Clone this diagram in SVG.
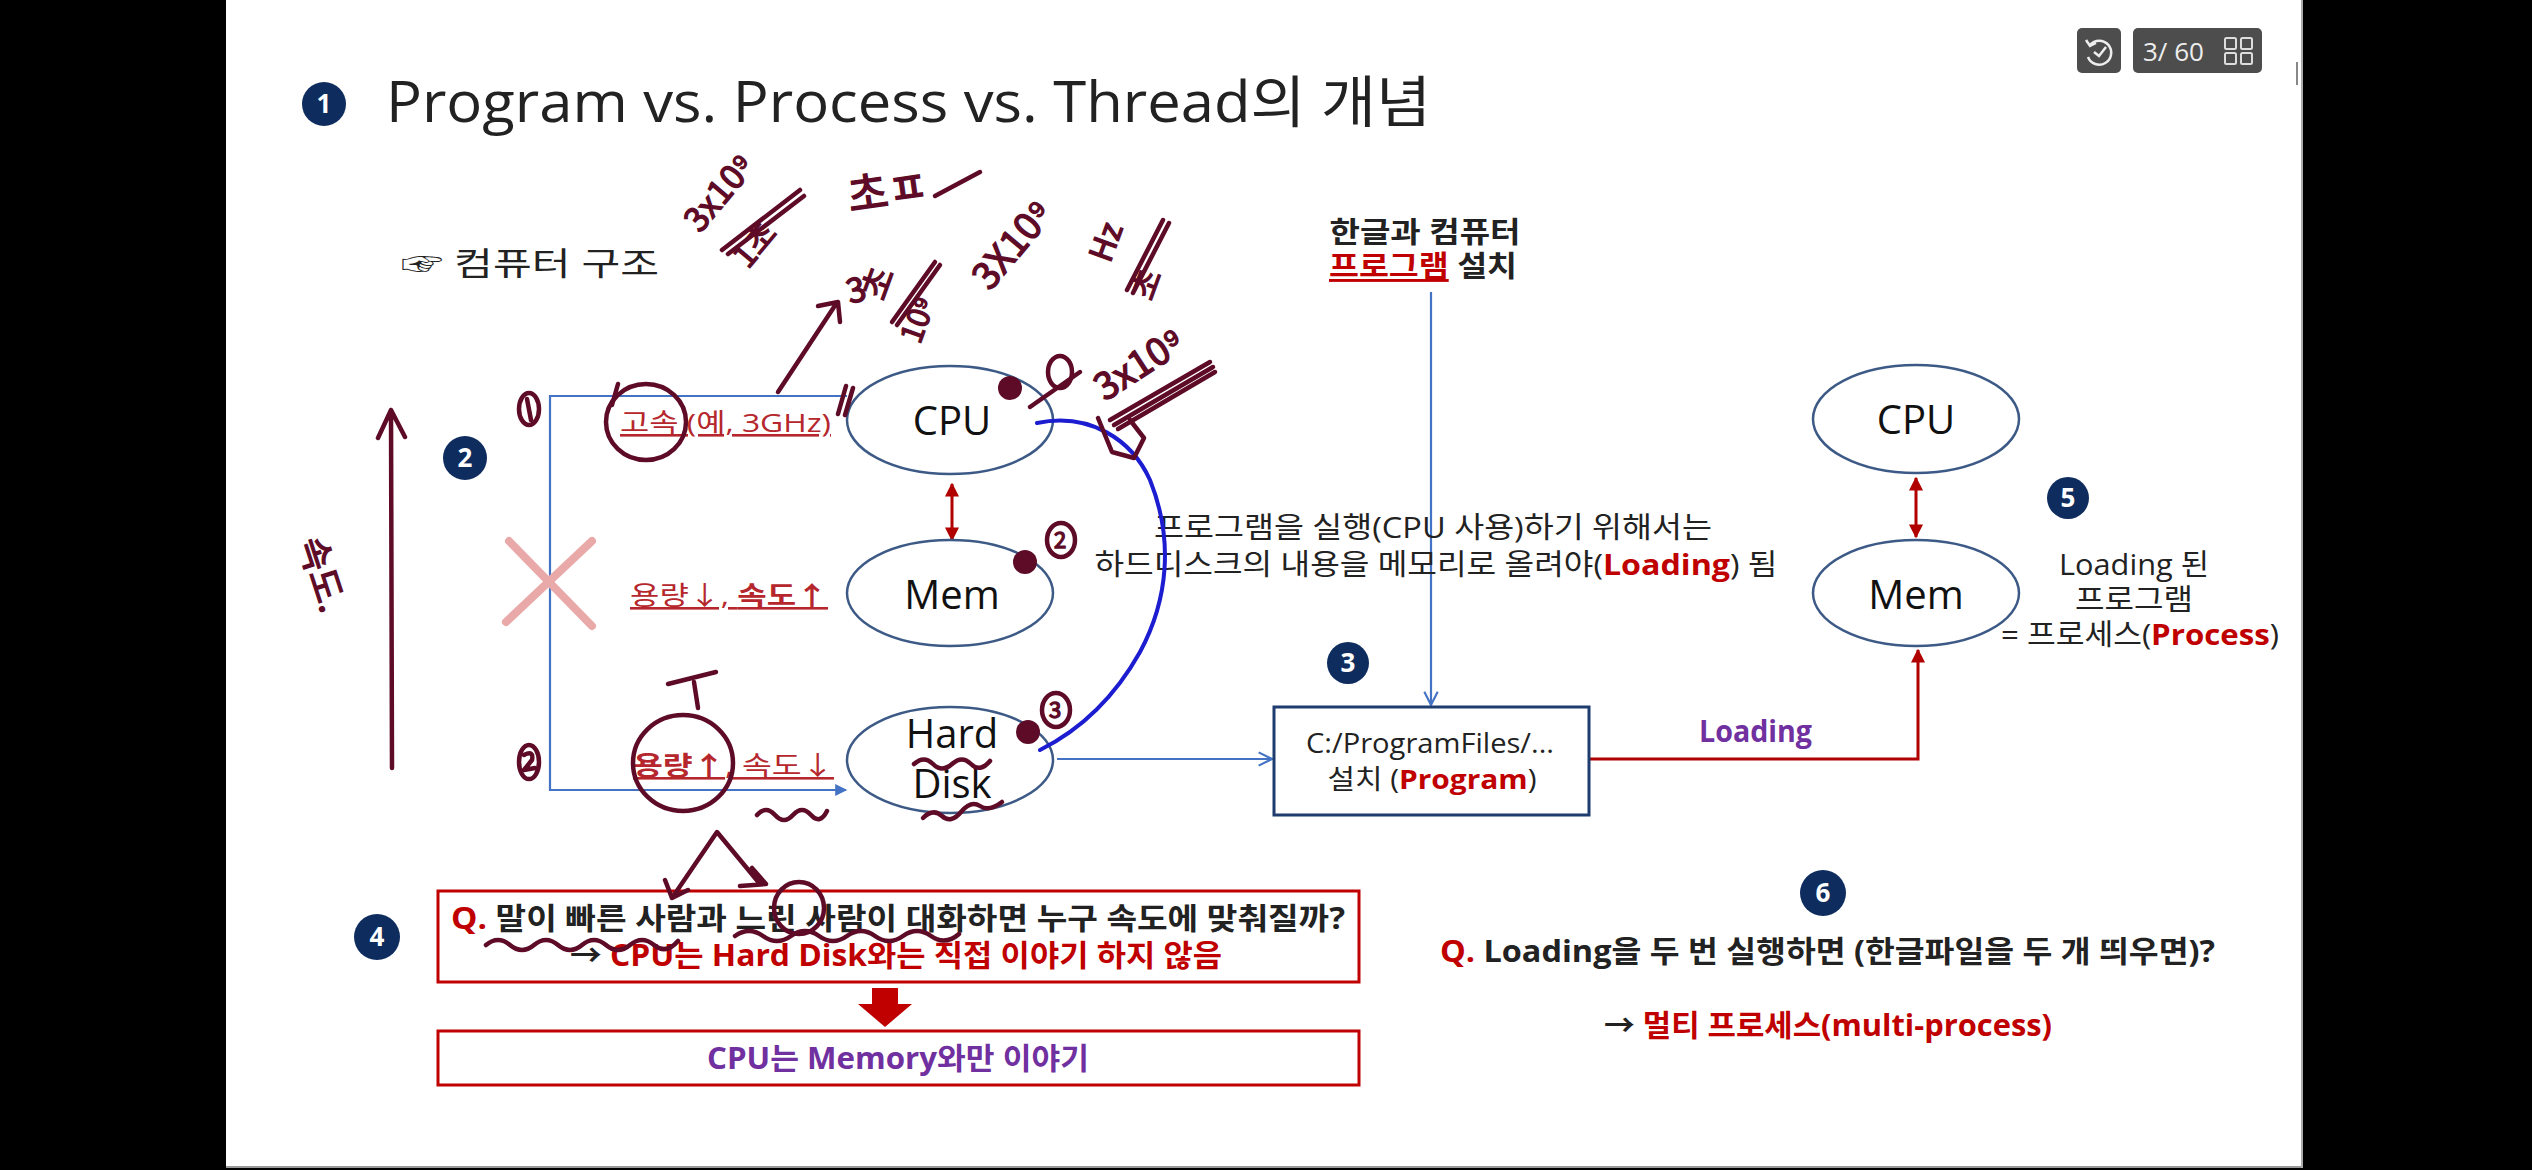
<svg xmlns="http://www.w3.org/2000/svg" width="2532" height="1170" viewBox="0 0 2532 1170">
<defs>
<style>
.t{font-family:'Open Sans','Noto Sans CJK KR',sans-serif;fill:#222;}
.b{font-weight:700;}
.red{fill:#c00000;}
.lab{fill:#b5272d;font-size:26px;text-decoration:underline;}
.pur{fill:#7030a0;}
.ell{fill:#fff;stroke:#3d5a87;stroke-width:2.5;}
.nt{font-size:40px;text-anchor:middle;fill:#111;}
.num circle{fill:#0f2c5e;}
.num text{font-family:'Open Sans',sans-serif;font-weight:700;fill:#fff;font-size:26px;text-anchor:middle;}
.bl{fill:none;stroke:#4472c4;stroke-width:2.2;}
.rd{fill:none;stroke:#b00000;stroke-width:3;}
.hand{fill:none;stroke:#5e0b27;stroke-width:4.5;stroke-linecap:round;stroke-linejoin:round;}
.hf{fill:#5e0b27;}
.ht{font-family:'Noto Sans CJK KR',sans-serif;fill:#5e0b27;stroke:#5e0b27;stroke-width:1.4;font-weight:400;}
.box{fill:#fff;stroke:#c00000;stroke-width:3;}
</style>
<marker id="chev" viewBox="0 0 12 12" refX="11" refY="6" markerWidth="16" markerHeight="16" markerUnits="userSpaceOnUse" orient="auto">
<path d="M1,1 L11,6 L1,11" fill="none" stroke="#4472c4" stroke-width="1.6"/>
</marker>
<marker id="btri" viewBox="0 0 10 10" refX="9" refY="5" markerWidth="14" markerHeight="12" markerUnits="userSpaceOnUse" orient="auto">
<path d="M0,0 L10,5 L0,10 Z" fill="#4472c4"/>
</marker>
<marker id="rtri" viewBox="0 0 10 10" refX="9" refY="5" markerWidth="14" markerHeight="14" markerUnits="userSpaceOnUse" orient="auto-start-reverse">
<path d="M0,0 L10,5 L0,10 Z" fill="#b00000"/>
</marker>
</defs>

<rect x="0" y="0" width="2532" height="1170" fill="#000"/>
<rect x="226" y="0" width="2076" height="1166" fill="#fff"/>
<line x1="226" y1="1167" x2="2302" y2="1167" stroke="#999" stroke-width="2"/>
<line x1="2302" y1="0" x2="2302" y2="1168" stroke="#aaa" stroke-width="2"/>

<!-- viewer widget -->
<g id="viewer">
<rect x="2077" y="28" width="44" height="45" rx="5" fill="#4d4d4d"/>
<path d="M2090,45 A12,12 0 1 1 2088,57" fill="none" stroke="#eee" stroke-width="2.5"/>
<path d="M2086,40 L2090,46 L2096,43" fill="none" stroke="#eee" stroke-width="2.5"/>
<path d="M2094,52 L2099,56 L2106,47" fill="none" stroke="#eee" stroke-width="2.5"/>
<rect x="2133" y="28" width="129" height="45" rx="5" fill="#4d4d4d"/>
<text x="2143" y="61" font-family="'Open Sans',sans-serif" font-size="26" fill="#eee">3/ 60</text>
<g fill="none" stroke="#ddd" stroke-width="2">
<rect x="2225" y="38" width="11" height="11" rx="1.5"/><rect x="2241" y="38" width="11" height="11" rx="1.5"/>
<rect x="2225" y="53" width="11" height="11" rx="1.5"/><rect x="2241" y="53" width="11" height="11" rx="1.5"/>
</g>
<line x1="2297" y1="62" x2="2297" y2="85" stroke="#888" stroke-width="2"/>
</g>

<!-- title -->
<g id="title">
<g class="num"><circle cx="324" cy="104" r="22"/><text x="324" y="113">1</text></g>
<text class="t" x="386" y="122" font-size="56" textLength="1045" lengthAdjust="spacingAndGlyphs">Program vs. Process vs. Thread의 개념</text>
<text class="t" x="401" y="275" font-size="32" textLength="258" lengthAdjust="spacingAndGlyphs">☞ 컴퓨터 구조</text>
</g>

<!-- connectors -->
<g id="connectors">
<polyline class="bl" points="847,396 550,396 550,790 846,790" marker-end="url(#btri)" stroke-width="3"/>
<line class="bl" x1="1057" y1="759" x2="1272" y2="759" marker-end="url(#chev)"/>
<line class="bl" x1="1431" y1="292" x2="1431" y2="705" marker-end="url(#chev)"/>
<polyline class="rd" points="1589,759 1918,759 1918,650" marker-end="url(#rtri)"/>
<line class="rd" x1="952" y1="484" x2="952" y2="540" marker-start="url(#rtri)" marker-end="url(#rtri)"/>
<line class="rd" x1="1916" y1="478" x2="1916" y2="537" marker-start="url(#rtri)" marker-end="url(#rtri)"/>
<polygon points="872,988 898,988 898,1004 912,1004 885,1027 858,1004 872,1004" fill="#c00000"/>
</g>

<!-- left hierarchy -->
<g id="hier-labels">
<g class="num"><circle cx="465" cy="458" r="22"/><text x="465" y="467">2</text></g>
<text class="t lab" x="620" y="432" textLength="211" lengthAdjust="spacingAndGlyphs">고속 (예, 3GHz)</text>
<text class="t lab" x="630" y="605" textLength="198" lengthAdjust="spacingAndGlyphs">용량↓, <tspan class="b">속도↑</tspan></text>
<text class="t lab" x="633" y="775" textLength="201" lengthAdjust="spacingAndGlyphs"><tspan class="b">용량↑</tspan>, 속도↓</text>
<g stroke="#eaa9a9" stroke-width="8" stroke-linecap="round">
<line x1="509" y1="541" x2="592" y2="626"/><line x1="592" y1="541" x2="506" y2="622"/>
</g>
</g>

<g id="node-cpu"><ellipse class="ell" cx="950" cy="420" rx="103" ry="54"/><text class="t nt" x="952" y="435">CPU</text></g>
<g id="node-mem"><ellipse class="ell" cx="950" cy="593" rx="103" ry="53"/><text class="t nt" x="952" y="609">Mem</text></g>
<g id="node-hdd"><ellipse class="ell" cx="950" cy="760" rx="103" ry="53"/>
<text class="t nt" x="952" y="748" font-size="32">Hard</text><text class="t nt" x="952" y="798" font-size="32">Disk</text></g>

<!-- install -->
<g id="install-label">
<text class="t b" x="1425" y="243" font-size="29" text-anchor="middle" textLength="191" lengthAdjust="spacingAndGlyphs">한글과 컴퓨터</text>
<text class="t b" x="1423" y="277" font-size="29" text-anchor="middle" textLength="188" lengthAdjust="spacingAndGlyphs"><tspan class="red" text-decoration="underline">프로그램</tspan> 설치</text>
</g>
<g id="load-note">
<text class="t" x="1433" y="538" font-size="29" text-anchor="middle" textLength="558" lengthAdjust="spacingAndGlyphs">프로그램을 실행(CPU 사용)하기 위해서는</text>
<text class="t" x="1436" y="575" font-size="29" text-anchor="middle" textLength="683" lengthAdjust="spacingAndGlyphs">하드디스크의 내용을 메모리로 올려야(<tspan class="b red">Loading</tspan>) 됨</text>
</g>
<g id="node-program">
<g class="num"><circle cx="1348" cy="663" r="21"/><text x="1348" y="672">3</text></g>
<rect x="1274" y="707" width="315" height="108" fill="#fff" stroke="#1f3c6e" stroke-width="3"/>
<text class="t" x="1430" y="753" font-size="27" text-anchor="middle" textLength="248" lengthAdjust="spacingAndGlyphs">C:/ProgramFiles/...</text>
<text class="t" x="1432" y="789" font-size="27" text-anchor="middle" textLength="209" lengthAdjust="spacingAndGlyphs">설치 (<tspan class="b red">Program</tspan>)</text>
</g>
<text class="t b pur" x="1699" y="742" font-size="30" textLength="113" lengthAdjust="spacingAndGlyphs">Loading</text>

<g id="node-cpu2"><ellipse class="ell" cx="1916" cy="419" rx="103" ry="54"/><text class="t nt" x="1916" y="434">CPU</text></g>
<g id="node-mem2"><ellipse class="ell" cx="1916" cy="593" rx="103" ry="53"/><text class="t nt" x="1916" y="609">Mem</text></g>
<g id="process-note">
<g class="num"><circle cx="2068" cy="498" r="21"/><text x="2068" y="507">5</text></g>
<text class="t" x="2134" y="575" font-size="29" text-anchor="middle" textLength="150" lengthAdjust="spacingAndGlyphs">Loading 된</text>
<text class="t" x="2134" y="610" font-size="29" text-anchor="middle" textLength="118" lengthAdjust="spacingAndGlyphs">프로그램</text>
<text class="t" x="2140" y="645" font-size="29" text-anchor="middle" textLength="278" lengthAdjust="spacingAndGlyphs">= 프로세스(<tspan class="b red">Process</tspan>)</text>
</g>

<!-- Q boxes -->
<g id="node-q4">
<g class="num"><circle cx="377" cy="937" r="23"/><text x="377" y="946">4</text></g>
<rect class="box" x="438" y="891" width="921" height="91"/>
<text class="t b" x="451" y="929" font-size="30" textLength="894" lengthAdjust="spacingAndGlyphs"><tspan class="red">Q.</tspan> 말이 빠른 사람과 느린 사람이 대화하면 누구 속도에 맞춰질까?</text>
<text class="t b" x="570" y="966" font-size="30" textLength="652" lengthAdjust="spacingAndGlyphs">→ <tspan class="red">CPU는 Hard Disk와는 직접 이야기 하지 않음</tspan></text>
</g>
<g id="node-a4">
<rect class="box" x="438" y="1031" width="921" height="54"/>
<text class="t b pur" x="707" y="1069" font-size="30" textLength="382" lengthAdjust="spacingAndGlyphs">CPU는 Memory와만 이야기</text>
</g>
<g id="node-q6">
<g class="num"><circle cx="1823" cy="893" r="23"/><text x="1823" y="902">6</text></g>
<text class="t b" x="1440" y="962" font-size="30" textLength="775" lengthAdjust="spacingAndGlyphs"><tspan class="red">Q.</tspan> Loading을 두 번 실행하면 (한글파일을 두 개 띄우면)?</text>
<text class="t b" x="1604" y="1036" font-size="30" textLength="448" lengthAdjust="spacingAndGlyphs">→ <tspan class="red">멀티 프로세스(multi-process)</tspan></text>
</g>

<!-- handwritten annotations -->
<g id="handwriting">
<path d="M1037,423 C1090,412 1132,440 1150,480 C1174,540 1168,600 1140,652 C1112,702 1076,732 1040,750" style="fill:none;stroke:#1c1cd0;stroke-width:4;stroke-linecap:round"/>
<path class="hand" d="M392,768 L391,410 M378,438 L391,410 L405,437" stroke-width="3.5"/>
<text class="ht" font-size="36" transform="translate(298,542) rotate(72)">속도.</text>
<ellipse class="hand" cx="646" cy="422" rx="40" ry="38"/>
<path class="hand" d="M612,405 L618,384 M838,414 L846,386 M845,415 L853,388"/>
<ellipse class="hand" cx="529" cy="409" rx="10" ry="16"/>
<path class="hand" d="M527,399 L531,420" stroke-width="3"/>
<ellipse class="hand" cx="529" cy="762" rx="10" ry="17"/>
<path class="hand" d="M524,755 Q534,750 532,760 L524,770 L535,768" stroke-width="2.5"/>
<ellipse class="hand" cx="683" cy="763" rx="50" ry="48"/>
<path class="hand" d="M668,684 L716,672 M694,682 L698,708"/>
<path class="hand" d="M757,815 q9,-10 18,0 t18,0 t18,0 t16,-4" stroke-width="3.5"/>
<path class="hand" d="M914,764 q10,-9 19,0 t19,0 t19,0 t19,-3" stroke-width="3.5"/>
<path class="hand" d="M923,818 q10,-10 19,-2 t19,-4 t19,-6 t22,-4" stroke-width="3.5"/>
<circle class="hf" cx="1010" cy="388" r="12"/>
<ellipse class="hand" cx="1060" cy="372" rx="12" ry="16"/>
<path class="hand" d="M1030,407 L1080,372" stroke-width="3.5"/>
<text class="ht" font-size="38" transform="translate(1105,402) rotate(-33)">3x10⁹</text>
<path class="hand" d="M1110,420 L1210,362 M1114,425 L1213,367 M1118,429 L1215,372" stroke-width="3.5"/>
<path class="hand" d="M1098,418 L1112,452 L1134,458 L1144,438 L1130,420" stroke-width="3.5"/>
<circle class="hf" cx="1025" cy="562" r="12"/>
<ellipse class="hand" cx="1061" cy="540" rx="14" ry="17"/>
<text class="ht" font-size="22" transform="translate(1054,548)">2</text>
<circle class="hf" cx="1028" cy="732" r="12"/>
<ellipse class="hand" cx="1056" cy="710" rx="14" ry="17"/>
<text class="ht" font-size="22" transform="translate(1049,718)">3</text>
<text class="ht" font-size="34" transform="translate(700,234) rotate(-50)">3x10⁹</text>
<path class="hand" d="M722,250 L800,190 M728,254 L804,196" stroke-width="3.5"/>
<text class="ht" font-size="32" transform="translate(748,270) rotate(-50)">1초</text>
<text class="ht" font-size="44" transform="translate(850,212) rotate(-8)">초ㅍ</text>
<path class="hand" d="M935,196 L980,172"/>
<path class="hand" d="M778,392 L836,304 M818,306 L838,302 L840,322"/>
<text class="ht" font-size="34" transform="translate(850,304) rotate(-15)">3</text>
<text class="ht" font-size="34" transform="translate(884,302) rotate(-70)">초</text>
<path class="hand" d="M892,322 L935,262 M897,325 L940,265" stroke-width="3.5"/>
<text class="ht" font-size="30" transform="translate(920,345) rotate(-70)">10⁹</text>
<text class="ht" font-size="38" transform="translate(990,292) rotate(-50)">3X10⁹</text>
<text class="ht" font-size="32" transform="translate(1110,264) rotate(-70)">Hz</text>
<path class="hand" d="M1127,290 L1163,220 M1133,293 L1169,223" stroke-width="3.5"/>
<text class="ht" font-size="32" transform="translate(1152,302) rotate(-70)">초</text>
<path class="hand" d="M672,898 L717,832 L760,884 M665,880 L672,898 L688,890 M740,886 L766,884 L752,868" stroke-width="4"/>
<ellipse class="hand" cx="799" cy="908" rx="25" ry="26" stroke-width="3.5"/>
<path class="hand" d="M486,945 q12,-10 24,0 t24,0 t24,0 t24,0 t24,0 t24,0 t24,0 t24,-4" stroke-width="3.5"/>
<path class="hand" d="M735,936 q14,-10 28,0 t28,0 t28,0 t28,0 t28,0 t28,0 t28,0 t28,-2" stroke-width="3.5"/>
</g>
</svg>
